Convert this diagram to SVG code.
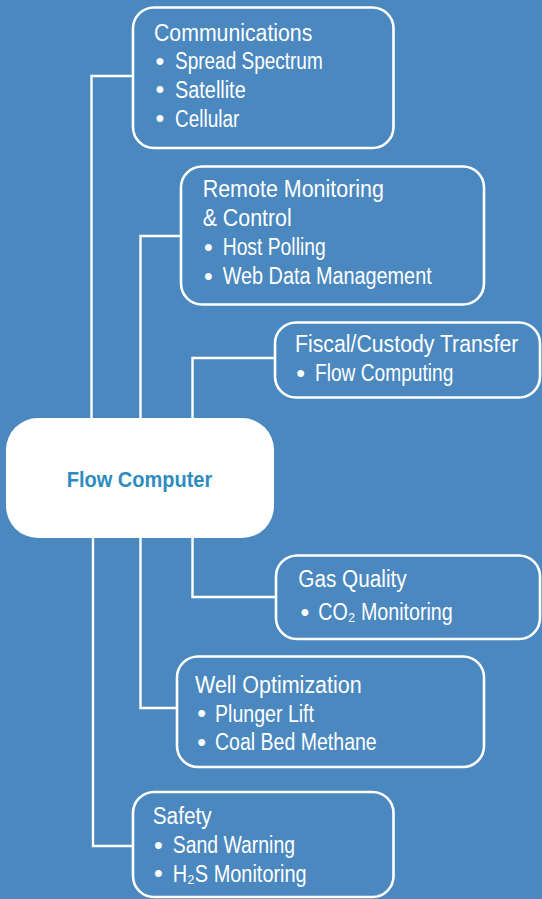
<svg xmlns="http://www.w3.org/2000/svg" width="542" height="899" viewBox="0 0 542 899">
<style>
.bg{fill:#4a88bf}
.box{fill:none;stroke:#ffffff;stroke-width:2.6}
.conn{fill:none;stroke:#ffffff;stroke-width:2.4}
.t{font-family:"Liberation Sans",Arial,sans-serif;font-size:23px;fill:#ffffff}
.b{font-family:"Liberation Sans",Arial,sans-serif;font-size:25px;fill:#ffffff;text-anchor:middle}
.main{font-family:"Liberation Sans",Arial,sans-serif;font-size:21.5px;font-weight:bold;fill:#2e8cbf;text-anchor:middle}
</style>
<rect class="bg" x="0" y="0" width="542" height="899"/>
<g id="connectors">
<path class="conn" d="M133,76 H91.5 V420"/>
<path class="conn" d="M181,236 H140.5 V420"/>
<path class="conn" d="M275,358 H192.5 V420"/>
<path class="conn" d="M192.5,536 V597 H276"/>
<path class="conn" d="M140.5,536 V708 H177"/>
<path class="conn" d="M93,536 V846 H133"/>
</g>
<g id="flow-computer">
<rect x="6" y="418" width="268" height="120" rx="32" fill="#ffffff"/>
<text class="main" x="139.5" y="486.7" textLength="145.6" lengthAdjust="spacingAndGlyphs">Flow Computer</text>
</g>
<g id="communications">
<rect class="box" x="133" y="7.5" width="260.5" height="140.5" rx="21"/>
<text class="t" x="154" y="40.7" textLength="158.3" lengthAdjust="spacingAndGlyphs">Communications</text>
<text class="b" x="160" y="69.5">•</text>
<text class="t" x="175" y="69" textLength="147.7" lengthAdjust="spacingAndGlyphs">Spread Spectrum</text>
<text class="b" x="160" y="98">•</text>
<text class="t" x="175" y="97.5" textLength="70.7" lengthAdjust="spacingAndGlyphs">Satellite</text>
<text class="b" x="160" y="127.2">•</text>
<text class="t" x="175" y="126.7" textLength="64.3" lengthAdjust="spacingAndGlyphs">Cellular</text>
</g>
<g id="remote-monitoring">
<rect class="box" x="181" y="166.5" width="303" height="138" rx="21"/>
<text class="t" x="202.7" y="197.3" textLength="181.3" lengthAdjust="spacingAndGlyphs">Remote Monitoring</text>
<text class="t" x="202.7" y="226" textLength="89" lengthAdjust="spacingAndGlyphs">&amp; Control</text>
<text class="b" x="208.3" y="255.5">•</text>
<text class="t" x="222.7" y="255" textLength="103" lengthAdjust="spacingAndGlyphs">Host Polling</text>
<text class="b" x="208.3" y="284.5">•</text>
<text class="t" x="222.7" y="284" textLength="209" lengthAdjust="spacingAndGlyphs">Web Data Management</text>
</g>
<g id="fiscal-custody">
<rect class="box" x="275" y="322.5" width="265" height="75" rx="21"/>
<text class="t" x="295" y="351.7" textLength="223.3" lengthAdjust="spacingAndGlyphs">Fiscal/Custody Transfer</text>
<text class="b" x="300.7" y="381.5">•</text>
<text class="t" x="315" y="381" textLength="138.3" lengthAdjust="spacingAndGlyphs">Flow Computing</text>
</g>
<g id="gas-quality">
<rect class="box" x="276" y="555.5" width="264" height="83.5" rx="21"/>
<text class="t" x="298.3" y="586.7" textLength="108.4" lengthAdjust="spacingAndGlyphs">Gas Quality</text>
<text class="b" x="305" y="620.5">•</text>
<text class="t" x="318.3" y="620" textLength="134.4" lengthAdjust="spacingAndGlyphs">CO₂ Monitoring</text>
</g>
<g id="well-optimization">
<rect class="box" x="177" y="656.5" width="307" height="110.5" rx="21"/>
<text class="t" x="195" y="692.7" textLength="166.7" lengthAdjust="spacingAndGlyphs">Well Optimization</text>
<text class="b" x="201.7" y="722.2">•</text>
<text class="t" x="215" y="721.7" textLength="99" lengthAdjust="spacingAndGlyphs">Plunger Lift</text>
<text class="b" x="201.7" y="750.5">•</text>
<text class="t" x="215" y="750" textLength="161.7" lengthAdjust="spacingAndGlyphs">Coal Bed Methane</text>
</g>
<g id="safety">
<rect class="box" x="133" y="792" width="260.5" height="105" rx="21"/>
<text class="t" x="152.7" y="824" textLength="59" lengthAdjust="spacingAndGlyphs">Safety</text>
<text class="b" x="158.3" y="853.8">•</text>
<text class="t" x="172.7" y="853.3" textLength="122.3" lengthAdjust="spacingAndGlyphs">Sand Warning</text>
<text class="b" x="158.3" y="882.2">•</text>
<text class="t" x="172.7" y="881.7" textLength="134" lengthAdjust="spacingAndGlyphs">H₂S Monitoring</text>
</g>
</svg>
